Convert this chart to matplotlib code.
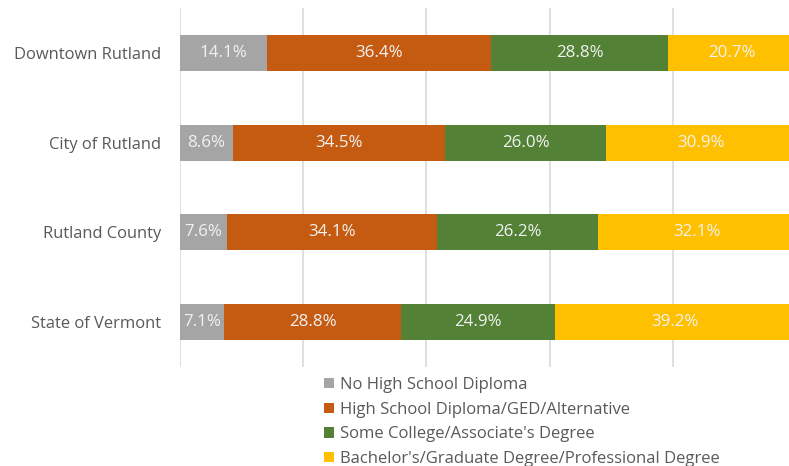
import numpy as np
import matplotlib.pyplot as plt

plt.rcParams['font.family'] = ['Open Sans', 'DejaVu Sans']

places = ['Downtown Rutland', 'City of Rutland', 'Rutland County', 'State of Vermont']
no_diploma = [14.1, 8.6, 7.6, 7.1]
high_school = [36.4, 34.5, 34.1, 28.8]
some_college = [28.8, 26.0, 26.2, 24.9]
bachelors = [20.7, 30.9, 32.1, 39.2]

series_names = ['No High School Diploma', 'High School Diploma/GED/Alternative',
                "Some College/Associate's Degree", "Bachelor's/Graduate Degree/Professional Degree"]
colors = ['#A5A5A5', '#C55A11', '#538135', '#FFC000']

text_color = '#595959'

fig = plt.figure(figsize=(7.89, 4.66), dpi=100)
# plot area runs a bit past the right edge of the picture, as in the original
ax = fig.add_axes([180 / 789, 1 - 367 / 466, 616 / 789, 359 / 466])

y = np.arange(len(places))
left = np.zeros(len(places))
for name, vals, col in zip(series_names, [no_diploma, high_school, some_college, bachelors], colors):
    vals = np.array(vals) / 100
    ax.barh(y, vals, left=left, height=0.4, color=col, label=name, zorder=2)
    for yi, l, v in zip(y, left, vals):
        ax.text(l + v / 2, yi, f'{v * 100:.1f}%', ha='center', va='center',
                color='#F2F2F2', fontsize=12.2, zorder=3)
    left += vals

ax.set_xlim(0, 1)
ax.set_ylim(3.5, -0.5)
ax.set_xticks(np.arange(0, 1.01, 0.2))
ax.xaxis.grid(True, color='#D9D9D9', linewidth=1.2, zorder=0)
ax.tick_params(axis='x', length=0, labelbottom=False)
ax.tick_params(axis='y', length=0, pad=13.5, labelsize=11.9, labelcolor=text_color)
ax.set_yticks(y)
ax.set_yticklabels(places)
for s in ax.spines.values():
    s.set_visible(False)

leg = fig.legend(loc='upper left', bbox_to_anchor=(324 / 789, 1 - 377 / 466), frameon=False,
                 fontsize=12, labelcolor=text_color, handlelength=0.6, handleheight=0.6,
                 handletextpad=0.35, labelspacing=0.52, borderpad=0, borderaxespad=0)

fig.savefig('out.png', dpi=100)
